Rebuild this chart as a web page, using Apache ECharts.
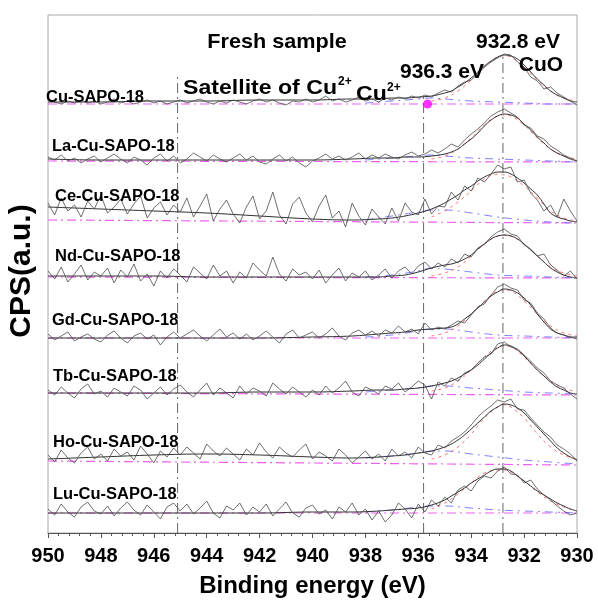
<!DOCTYPE html>
<html><head><meta charset="utf-8">
<script src="https://cdn.jsdelivr.net/npm/echarts@6/dist/echarts.min.js"></script>
<style>html,body{margin:0;padding:0;background:#fff}#c{width:598px;height:603px}</style>
</head><body><div id="c"></div>
<script>
// ---------- DATA ----------
const sampleNames = ['Cu-SAPO-18','La-Cu-SAPO-18','Ce-Cu-SAPO-18','Nd-Cu-SAPO-18','Gd-Cu-SAPO-18','Tb-Cu-SAPO-18','Ho-Cu-SAPO-18','Lu-Cu-SAPO-18'];
const xTickValues = [950,948,946,944,942,940,938,936,934,932,930];

// raw spectra, sampled every 0.25 eV from 950 to 930 eV (81 points)
const rawCu = [434,431,429,432,430,433,430,432,429,431, 434,430,432,429,431,433,430,432,429,431, 433,430,432,434,431,429,432,430,433,431, 429,432,434,431,433,430,428,432,431,434, 431,433,437,432,434,431,433,436,432,434, 431,435,433,436,434,437,435,438,436,440, 443,441,447,451,453,459,466,471,475,479, 478,471,466,456,452,444,446,440,436,432, 428];
const rawLa = [376,373,378,372,375,370,374,377,371,375, 379,374,370,376,373,368,375,379,372,377, 370,374,380,376,372,378,374,371,375,379, 373,377,371,369,374,378,372,376,370,366, 372,375,379,374,377,373,376,380,374,378, 375,379,376,374,378,381,377,379,383,380, 384,389,386,393,399,404,410,417,421,424, 420,416,408,405,397,394,387,383,378,375, 372];
const rawCe = [330,318,335,322,328,316,332,324,338,320, 326,334,319,329,337,315,325,331,318,328, 321,335,316,327,339,312,324,333,319,310, 326,337,314,322,341,318,309,329,336,320, 311,327,338,315,322,306,330,317,308,324, 316,309,325,312,330,321,318,334,319,327, 326,341,333,347,342,355,351,359,368,364, 366,351,353,340,333,322,328,316,334,322, 312];
const rawNd = [262,254,266,251,259,268,253,261,257,265, 250,263,256,269,252,259,247,262,255,264, 258,251,266,260,254,268,257,262,250,261, 255,270,263,257,276,259,252,264,258,261, 254,263,250,258,265,252,260,256,262,253, 258,264,255,262,266,259,267,271,264,270, 266,274,270,279,276,285,289,296,301,304, 299,297,288,284,277,279,268,263,257,262, 254];
const rawGd = [199,193,197,201,192,196,199,194,191,198, 202,195,190,197,200,194,198,188,196,201, 195,199,203,197,192,198,204,196,200,194, 199,193,197,202,196,190,199,203,195,198, 201,195,199,205,197,193,200,203,198,202, 197,203,200,207,201,204,199,210,203,206, 204,208,212,210,218,226,229,238,246,249, 245,243,233,230,220,214,205,200,198,196, 194];
const rawTb = [143,138,146,140,135,144,149,139,142,136, 145,141,137,147,143,134,140,146,138,144, 148,141,136,143,150,138,145,140,135,147, 139,145,142,137,150,144,139,146,141,136, 143,138,147,140,145,152,141,137,146,143, 139,147,144,150,141,146,152,148,134,151, 147,155,152,160,163,170,176,179,189,191, 186,184,178,172,165,160,152,148,145,139, 134];
const rawHo = [78,71,83,75,70,80,86,74,79,72, 84,77,81,73,87,79,70,82,76,85, 78,86,80,74,89,82,77,85,79,73, 84,78,90,81,75,86,80,76,83,89, 74,81,77,72,84,78,70,76,82,74, 79,72,84,77,81,75,86,80,78,88, 85,92,96,101,108,116,122,127,133,131, 134,124,123,115,108,101,96,88,84,79, 72];
const rawLu = [24,18,29,21,16,26,31,22,19,27, 17,25,31,23,18,28,21,14,26,30, 22,29,19,25,32,20,15,27,23,30, 18,26,21,29,17,24,31,20,16,25, 28,19,23,14,26,21,30,18,24,13, 22,11,18,30,24,15,29,21,33,27, 36,30,43,47,42,52,57,55,62,66, 59,58,50,53,44,38,33,27,22,18, 20];

// fitted envelope
const fitE = [950,948,946,944,942,940,938.5,937.5,937,936.5,936,935.5,935,934.75,934.5,934.25,934,933.75,933.5,933.25,933,932.75,932.5,932.25,932,931.75,931.5,931.25,931,930.75,930.5,930.25,930];
const envCu = [431,431,432,432,433,433,434,434,435,435,436,437,440,442,446,450,455,461,467,472,476,478,477,474,468,461,454,448,442,438,435,432,431];
const envLa = [374,373,373,373,373,373,374,375,375,376,376,377,379,381,384,389,394,400,407,413,417,419,418,415,409,403,396,390,384,380,377,374,372];
const envCe = [326,324,322,320,317,314,313,314,315,317,320,324,330,334,338,343,347,352,356,359,361,361,359,355,350,344,338,329,320,316,314,312,311];
const envNd = [257,257,257,256,256,256,256,256,257,258,261,265,268,269,271,274,278,284,289,294,297,298,297,294,289,283,277,271,265,261,258,256,255];
const envGd = [195,195,195,195,195,196,197,199,200,201,203,204,205,206,209,214,219,225,231,237,241,244,243,240,235,228,219,211,204,200,198,196,196];
const envTb = [140,140,140,140,141,141,142,143,143,144,145,147,150,152,155,159,163,168,174,180,185,188,187,183,177,170,163,157,151,146,143,140,139];
const envHo = [74,76,78,79,78,76,75,76,77,78,80,82,86,89,93,98,104,110,116,122,126,129,128,125,120,113,106,99,92,85,80,76,73];
const envLu = [20,20,20,20,20,21,21,22,23,24,25,28,33,37,41,45,50,54,58,62,64,64,62,57,52,47,42,38,34,30,27,24,22];

// main CuO component (red dashed)
const redE = [935.5,935,934.5,934,933.5,933,932.75,932.5,932,931.5,931,930.5,930];
const redCu = [432,435,442,453,466,476,477,476,466,453,442,435,432];
const redLa = [374,377,384,395,408,417,418,417,408,395,384,377,374];
const redCe = [316,322,331,342,354,359,358,356,347,335,322,315,312];
const redNd = [257,260,266,277,289,297,298,297,289,277,266,260,257];
const redGd = [197,200,207,219,232,242,243,242,232,219,207,200,197];
const redTb = [142,145,152,163,176,186,187,186,176,163,152,145,141];
const redHo = [74,78,86,99,115,126,128,126,115,99,86,78,74];
const redLu = [24,30,39,50,60,63,63,61,52,41,32,26,22];

// Cu2+ component (blue dash-dot)
const blueE = [938,937,936,935.5,935,934,933,932,931,930];
const blueCu = [430,432,434,435,434,432,431,430,429,429];
const blueLa = [373,375,377,378,377,375,374,373,372,371];
const blueCe = [313,317,321,323,323,320,316,313,311,310];
const blueNd = [256,258,262,265,264,261,258,257,256,255];
const blueGd = [196,198,202,204,204,201,198,197,196,195];
const blueTb = [141,143,145,147,147,145,143,141,140,139];
const blueHo = [75,77,80,82,82,79,76,73,71,69];
const blueLu = [21,23,26,27,27,25,23,22,21,20];

// background (magenta dash-dot) at 950 and 930 eV
const baseLeft  = [429,372,313,256,195,140,72,20];
const baseRight = [429,371,310,255,195,138,68,20];

// reference lines (eV) and their top values
const refE   = [945.1, 935.8, 932.8];
const refTop = [456, 438, 478];
const markerPoint = [935.65, 429];

// ---------- LAYOUT ----------
const rawAll  = [rawCu,rawLa,rawCe,rawNd,rawGd,rawTb,rawHo,rawLu];
const envAll  = [envCu,envLa,envCe,envNd,envGd,envTb,envHo,envLu];
const redAll  = [redCu,redLa,redCe,redNd,redGd,redTb,redHo,redLu];
const blueAll = [blueCu,blueLa,blueCe,blueNd,blueGd,blueTb,blueHo,blueLu];
const labelPos = [[46,98],[52,147],[55,197],[55,257],[52,321],[53,377],[53,443],[53,495]];
const rawE = Array.from({length: 81}, (_, i) => 950 - 0.25 * i);
const FONT = '"Liberation Sans", Arial, sans-serif';
const zip = (xs, ys) => xs.map((x, i) => [x, ys[i]]);

const series = [];
for (let k = 0; k < sampleNames.length; k++) {
  series.push({ type:'line', data:[[950, baseLeft[k]], [930, baseRight[k]]], symbol:'none', silent:true,
    lineStyle:{ color:'#f060f0', width:1.2, type:[9,4,2,4] }, z:1 });
  series.push({ type:'line', data: zip(blueE, blueAll[k]), symbol:'none', smooth:0.4, silent:true,
    lineStyle:{ color:'#7070ff', width:0.9, type:[8,5,2,5] }, z:2 });
  series.push({ type:'line', data: zip(redE, redAll[k]), symbol:'none', smooth:0.4, silent:true,
    lineStyle:{ color:'#ff5050', width:0.8, type:[3,4] }, z:3 });
  series.push({ type:'line', name: sampleNames[k] + ' fit', data: zip(fitE, envAll[k]), symbol:'none', smooth:0.4,
    lineStyle:{ color:'#303030', width:1 }, z:4 });
  series.push({ type:'line', name: sampleNames[k], data: zip(rawE, rawAll[k]), symbol:'none',
    lineStyle:{ color:'#4a4a4a', width:0.8 }, z:5 });
}
for (let j = 0; j < refE.length; j++) {
  series.push({ type:'line', data:[[refE[j], 0], [refE[j], refTop[j]]], symbol:'none', silent:true,
    lineStyle:{ color:'#666', width:1, type:[10,4,2,4] }, z:0 });
}
series.push({ type:'scatter', data:[markerPoint], symbolSize:9, itemStyle:{ color:'#ff00ff' }, z:10 });

const txt = (text, x, y, size, align, sx) => ({
  type:'text', x, y, z:50, scaleX: sx || 1,
  style:{ text, font:'bold ' + size + 'px ' + FONT, fill:'#000', textAlign: align || 'left', textVerticalAlign:'middle' }
});
const graphics = sampleNames.map((n, k) => txt(n, labelPos[k][0], labelPos[k][1], 16, 'left', 1.03));
graphics.push(txt('Fresh sample', 277, 42, 21, 'center', 1.03));
graphics.push(txt('Satellite of Cu', 183, 88, 21, 'left', 1.1));
graphics.push(txt('2+', 338, 82, 12));
graphics.push(txt('Cu', 356, 94, 21, 'left', 1.1));
graphics.push(txt('2+', 387, 88, 12));
graphics.push(txt('936.3 eV', 442, 72, 21, 'center'));
graphics.push(txt('932.8 eV', 518, 42, 21, 'center'));
graphics.push(txt('CuO', 541, 65, 21, 'center'));
graphics.push({ type:'text', x:22, y:271, rotation:Math.PI/2, z:50,
  style:{ text:'CPS(a.u.)', font:'bold 30px ' + FONT, fill:'#000', textAlign:'center', textVerticalAlign:'middle' } });

const chart = echarts.init(document.getElementById('c'), null, { renderer:'canvas' });
chart.setOption({
  animation:false,
  backgroundColor:'#fff',
  grid:{ left:48, right:21, top:15, bottom:70, show:true, borderColor:'#aaa', borderWidth:1 },
  xAxis:{ type:'value', min:930, max:950, inverse:true, interval:2,
    axisLine:{ lineStyle:{ color:'#555' } },
    axisTick:{ length:5, lineStyle:{ color:'#555' } },
    minorTick:{ show:true, splitNumber:5, length:3, lineStyle:{ color:'#555' } },
    splitLine:{ show:false },
    axisLabel:{ fontSize:20, fontWeight:'bold', color:'#000', margin:13, fontFamily:FONT,
      customValues: xTickValues },
    name:'Binding energy (eV)', nameLocation:'middle', nameGap:41,
    nameTextStyle:{ fontSize:24, fontWeight:'bold', color:'#000', fontFamily:FONT } },
  yAxis:{ type:'value', min:0, max:518,
    axisLine:{ show:false }, axisTick:{ show:false }, axisLabel:{ show:false }, splitLine:{ show:false } },
  series,
  graphic: graphics
});
</script></body></html>
